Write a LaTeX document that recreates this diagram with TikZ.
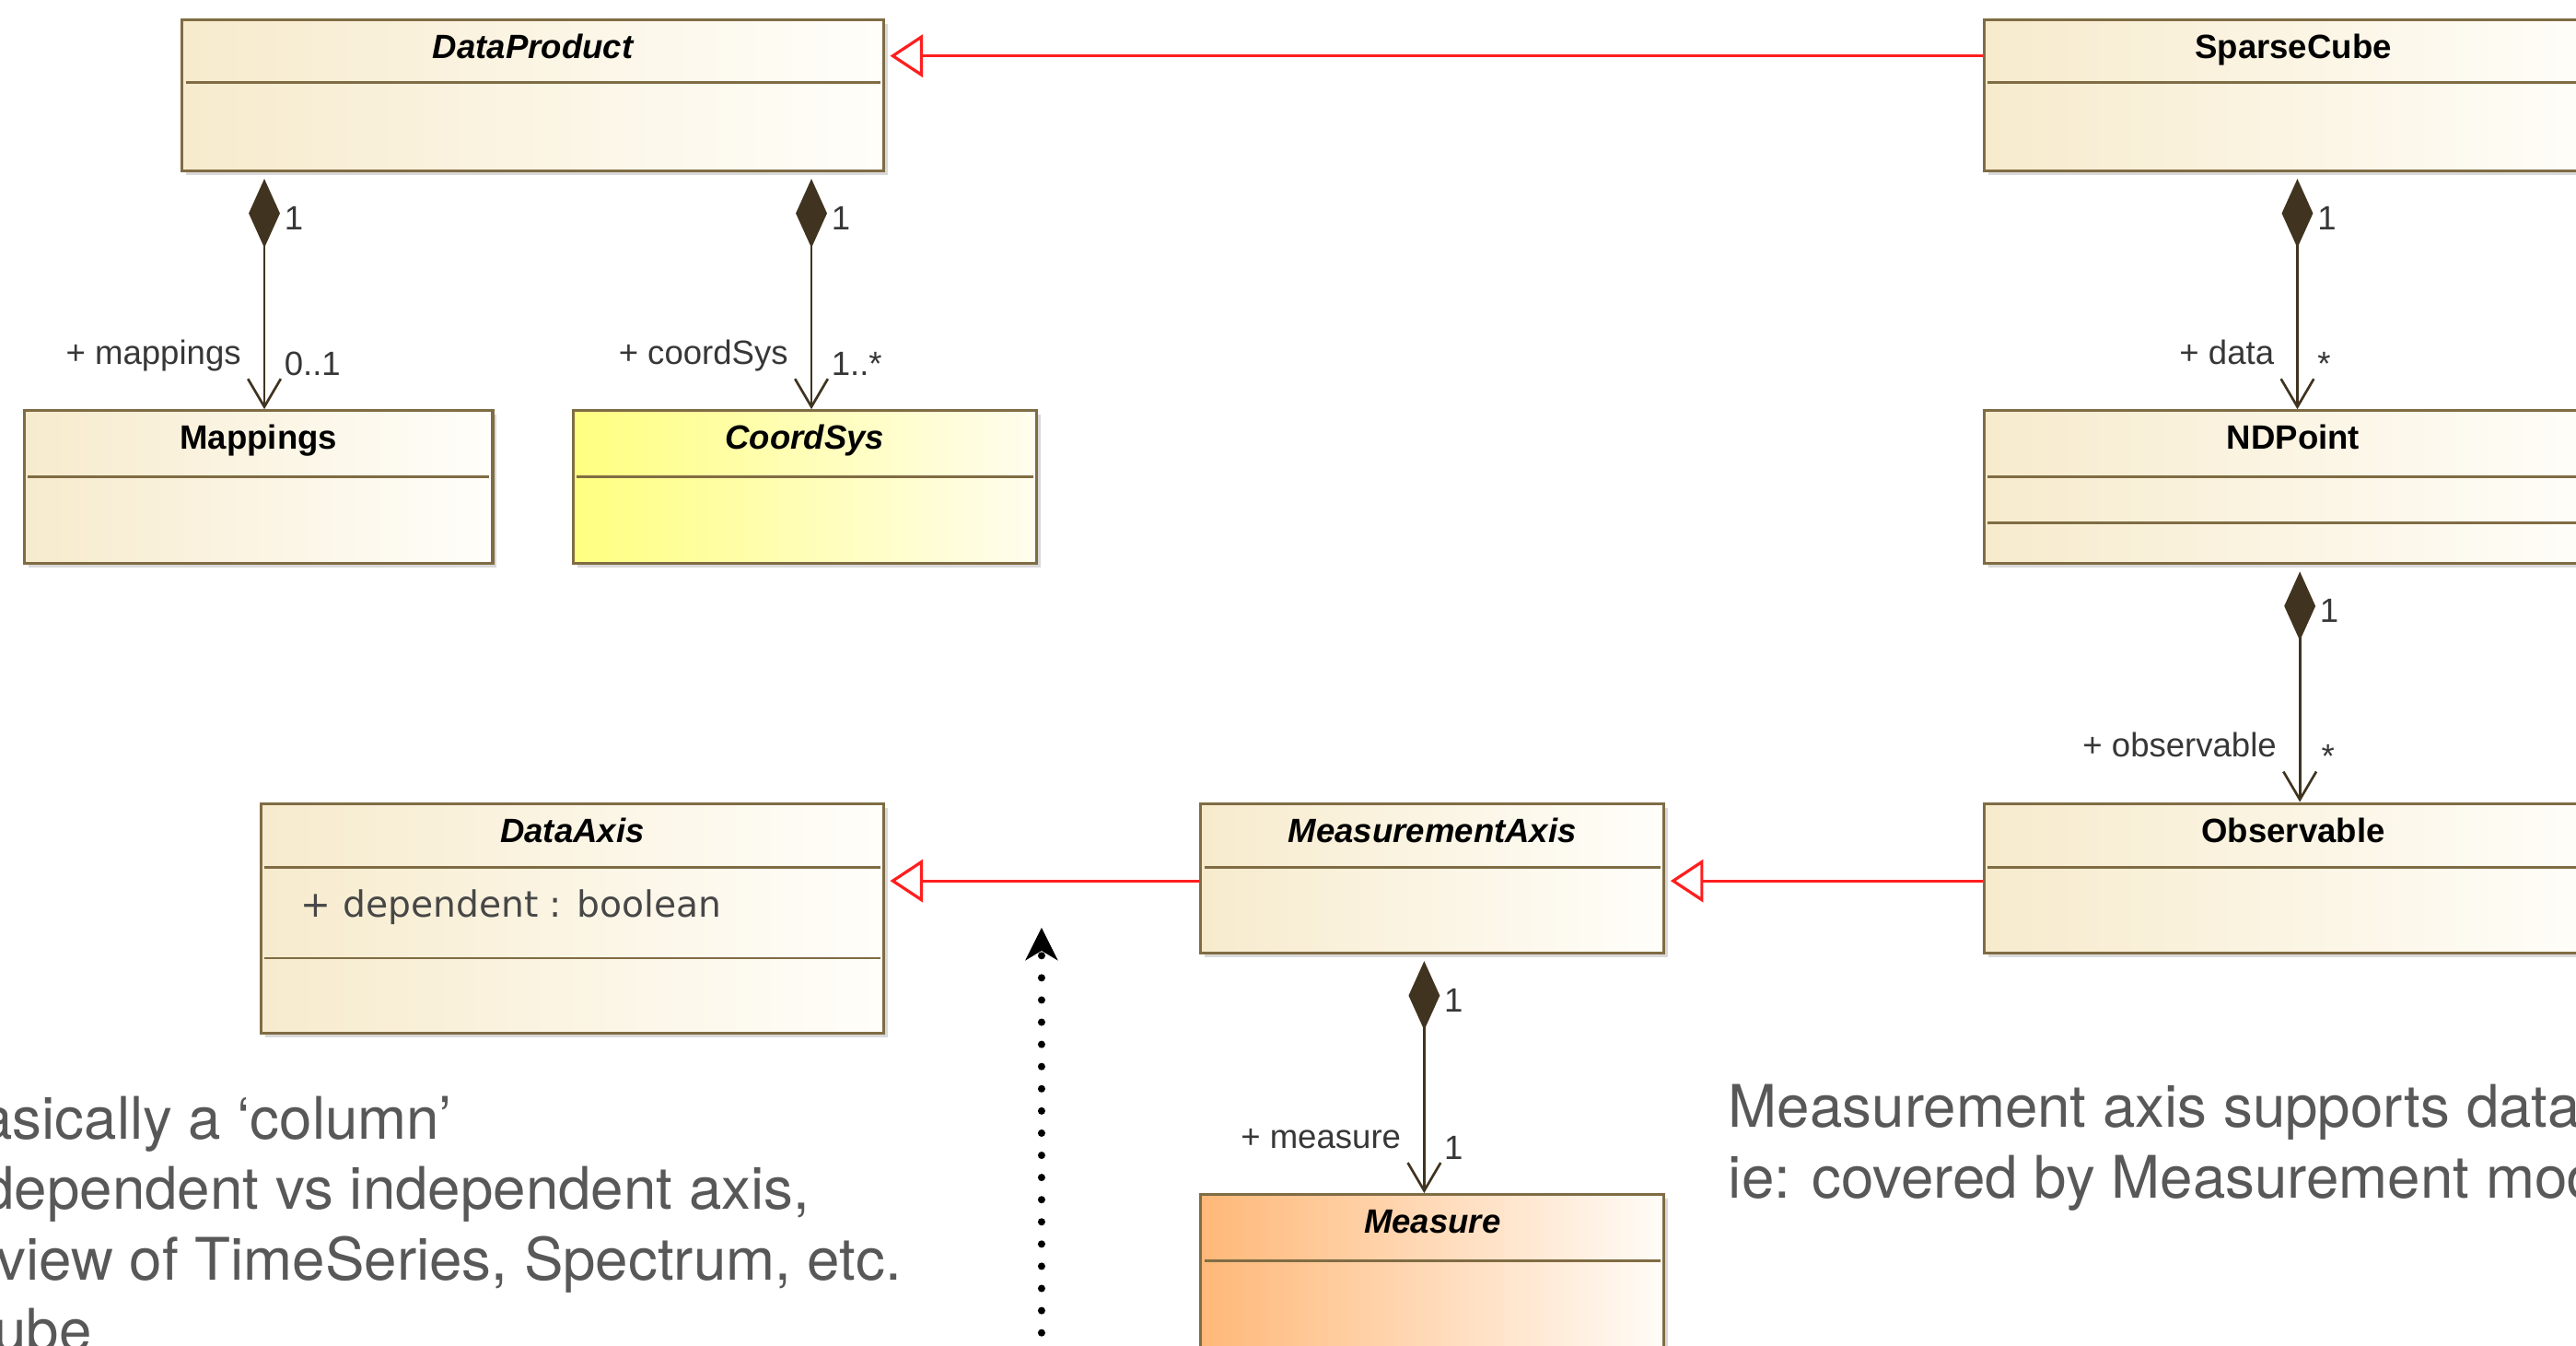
\documentclass[tikz,border=0pt]{standalone}
\usepackage{fontspec}
\setmainfont{Liberation Sans}
\newfontfamily\notefont{TeX Gyre Heros}
\newfontfamily\attrfont{DejaVu Sans}
\usetikzlibrary{arrows.meta,calc,shadows}

\definecolor{umlborder}{RGB}{128,108,68}
\definecolor{assoc}{RGB}{64,52,32}
\definecolor{beigeL}{RGB}{247,235,205}
\definecolor{beigeR}{RGB}{255,254,250}
\definecolor{yelL}{RGB}{255,255,128}
\definecolor{yelR}{RGB}{255,253,238}
\definecolor{orngL}{RGB}{255,184,120}
\definecolor{orngR}{RGB}{255,252,248}
\definecolor{genred}{RGB}{255,30,30}
\definecolor{notegray}{RGB}{88,88,88}
\definecolor{lblgray}{RGB}{55,55,55}

\tikzset{
  classbox/.style={draw=umlborder, line width=1.8pt, rectangle, inner sep=0pt,
    left color=beigeL, right color=beigeR,
    drop shadow={shadow xshift=2.5pt, shadow yshift=-2.5pt, opacity=0.3, fill=black!50}},
  yellowbox/.style={left color=yelL, right color=yelR},
  orangebox/.style={left color=orngL, right color=orngR},
  classname/.style={font=\bfseries\fontsize{20.5}{24}\selectfont, anchor=base, inner sep=0pt, text=black},
  absname/.style={font=\bfseries\itshape\fontsize{20.5}{24}\selectfont, anchor=base, inner sep=0pt, text=black},
  divider/.style={draw=umlborder, line width=1.6pt},
  comp/.style={draw=assoc, line width=1.5pt,
    {Diamond[length=42pt,width=19pt]}-{Straight Barb[length=17pt,width=20pt]}, shorten <=4pt},
  gen/.style={draw=genred, line width=1.8pt, -{Triangle[open,length=20pt,width=26pt,fill=white]}, shorten >=3pt},
  lbl/.style={font=\fontsize{20.5}{24}\selectfont, text=lblgray, inner sep=0pt},
  attr/.style={font=\attrfont\fontsize{22}{26}\selectfont, text=black!72, inner sep=0pt},
  notetext/.style={font=\notefont\fontsize{35.7}{43}\selectfont, text=notegray, inner sep=0pt},
  dotarrow/.style={draw=black, line width=4.5pt, line cap=round, dash pattern=on 0pt off 13.5pt,
    -{Stealth[length=20pt,width=20pt,inset=6pt,line width=0.5pt]}},
}

% class box: name, x, y, width, height, fill style, title style, title
\newcommand\umlclass[8]{%
  \node[classbox,#6,minimum width=#4pt,minimum height=#5pt,anchor=north west] (#1) at (#2,#3) {};
  \node[#7] (#1-title) at ($(#1.north)+(0,24.5)$) {#8};
}
% compartment separator at a given depth below the top edge
\newcommand\umldiv[2]{%
  \draw[divider] ($(#1.north west)+(3,#2)$) -- ($(#1.north east)+(-3,#2)$);
}

\begin{document}
\begin{tikzpicture}[x=1pt,y=-1pt]
\useasboundingbox (0,0) rectangle (1568,819);
\clip (0,0) rectangle (1568,819);

% ---------- classes ----------
\umlclass{dp}{110}{11}{427}{92}{}{absname}{DataProduct}
\umldiv{dp}{39}
\umlclass{sc}{1207}{11}{376}{92}{}{classname}{SparseCube}
\umldiv{sc}{39}
\umlclass{map}{14}{249}{285}{93}{}{classname}{Mappings}
\umldiv{map}{41}
\umlclass{cs}{348}{249}{282}{93}{yellowbox}{absname}{CoordSys}
\umldiv{cs}{41}
\umlclass{nd}{1207}{249}{376}{93}{}{classname}{NDPoint}
\umldiv{nd}{41}
\umldiv{nd}{69}
\umlclass{da}{158}{488}{379}{140}{}{absname}{DataAxis}
\umldiv{da}{40}
\umldiv{da}{95}
\node[attr, anchor=base west] (da-attr) at ($(da.north west)+(25,70)$) {+ dependent : boolean};
\umlclass{ma}{730}{488}{282}{91}{}{absname}{MeasurementAxis}
\umldiv{ma}{40}
\umlclass{ob}{1207}{488}{376}{91}{}{classname}{Observable}
\umldiv{ob}{40}
\umlclass{me}{730}{726}{282}{120}{orangebox}{absname}{Measure}
\umldiv{me}{41}

% ---------- generalizations ----------
\coordinate (scGen) at ($(sc.north west)+(0,23)$);
\draw[gen] (scGen) -- (scGen -| dp.east);
\coordinate (obGen) at ($(ob.north west)+(0,48)$);
\draw[gen] (obGen) -- (obGen -| ma.east);
\coordinate (maGen) at ($(ma.north west)+(0,48)$);
\draw[gen] (maGen) -- (maGen -| da.east);

% ---------- compositions ----------
% DataProduct -> Mappings
\coordinate (mapIn) at ($(map.north)+(3.5,0)$);
\draw[comp] (mapIn |- dp.south) -- (mapIn);
\node[lbl, anchor=base west] (mapOwn) at ($(mapIn |- dp.south)+(12,35)$) {1};
\node[lbl, anchor=base east] (mapRole) at ($(mapIn)+(-14,-27.5)$) {+ mappings};
\node[lbl, anchor=base west] (mapMult) at ($(mapIn)+(12,-20.5)$) {0..1};

% DataProduct -> CoordSys
\coordinate (csIn) at ($(cs.north)+(4,0)$);
\draw[comp] (csIn |- dp.south) -- (csIn);
\node[lbl, anchor=base west] (csOwn) at ($(csIn |- dp.south)+(12,35)$) {1};
\node[lbl, anchor=base east] (csRole) at ($(csIn)+(-14,-27.5)$) {+ coordSys};
\node[lbl, anchor=base west] (csMult) at ($(csIn)+(12,-20.5)$) {1..*};

% SparseCube -> NDPoint
\coordinate (ndIn) at ($(nd.north)+(2.5,0)$);
\draw[comp] (ndIn |- sc.south) -- (ndIn);
\node[lbl, anchor=base west] (ndOwn) at ($(ndIn |- sc.south)+(12,35)$) {1};
\node[lbl, anchor=base east] (ndRole) at ($(ndIn)+(-14,-27.5)$) {+ data};
\node[lbl, anchor=base west] (ndMult) at ($(ndIn)+(12,-20.5)$) {*};

% NDPoint -> Observable
\coordinate (obIn) at ($(ob.north)+(4,0)$);
\draw[comp] (obIn |- nd.south) -- (obIn);
\node[lbl, anchor=base west] (obOwn) at ($(obIn |- nd.south)+(12,35)$) {1};
\node[lbl, anchor=base east] (obRole) at ($(obIn)+(-14,-27.5)$) {+ observable};
\node[lbl, anchor=base west] (obMult) at ($(obIn)+(13,-20.5)$) {*};

% MeasurementAxis -> Measure
\coordinate (meIn) at ($(me.north)+(-5,0)$);
\draw[comp] (meIn |- ma.south) -- (meIn);
\node[lbl, anchor=base west] (meOwn) at ($(meIn |- ma.south)+(12,35)$) {1};
\node[lbl, anchor=base east] (meRole) at ($(meIn)+(-14,-27.5)$) {+ measure};
\node[lbl, anchor=base west] (meMult) at ($(meIn)+(12,-20.5)$) {1};

% ---------- dotted pointer ----------
\coordinate (ptrFoot) at (634,838);
\coordinate (ptrHead) at (634,564.5);
\draw[dotarrow] (ptrFoot) -- (ptrHead);

% ---------- notes ----------
\node[notetext, anchor=base east] (noteL1) at (275,693) {Basically a ‘column’};
\node[notetext, anchor=base east] (noteL2) at (493,736) {dependent vs independent axis,};
\node[notetext, anchor=base east] (noteL3) at (549,779) {view of TimeSeries, Spectrum, etc.};
\node[notetext, anchor=base east] (noteL4) at (56,822) {cube};

\node[notetext, anchor=base west] (noteR1) at (1052,686) {Measurement axis supports data};
\node[notetext, anchor=base west] (noteR2) at (1052,729) {ie: covered by Measurement mod};
\end{tikzpicture}
\end{document}
